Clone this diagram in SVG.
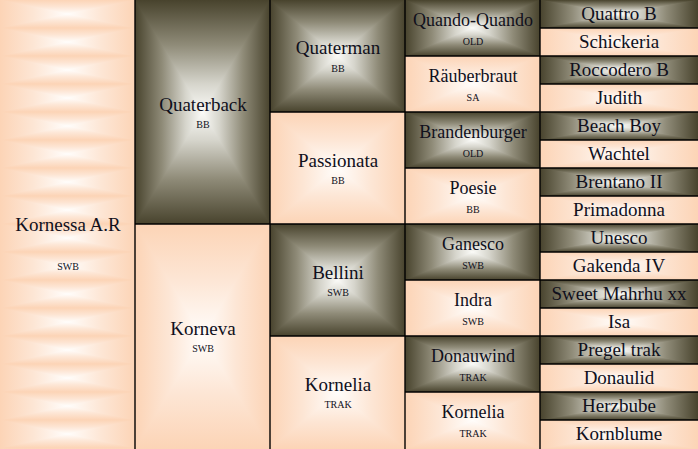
<svg xmlns="http://www.w3.org/2000/svg" width="698" height="449" viewBox="0 0 698 449">
<defs>
<linearGradient id="dT" x1="0" y1="0" x2="0" y2="1"><stop offset="0" stop-color="#48432d"/><stop offset="0.4" stop-color="#8f8b78"/><stop offset="0.75" stop-color="#d6d5cc"/><stop offset="1" stop-color="#fbfbf8"/></linearGradient>
<linearGradient id="dB" x1="0" y1="1" x2="0" y2="0"><stop offset="0" stop-color="#48432d"/><stop offset="0.4" stop-color="#8f8b78"/><stop offset="0.75" stop-color="#d6d5cc"/><stop offset="1" stop-color="#fbfbf8"/></linearGradient>
<linearGradient id="dH" x1="0" y1="0" x2="1" y2="0"><stop offset="0" stop-color="#48432d"/><stop offset="0.2" stop-color="#8f8b78"/><stop offset="0.375" stop-color="#d6d5cc"/><stop offset="0.5" stop-color="#fbfbf8"/><stop offset="0.625" stop-color="#d6d5cc"/><stop offset="0.8" stop-color="#8f8b78"/><stop offset="1" stop-color="#48432d"/></linearGradient>
<linearGradient id="lT" x1="0" y1="0" x2="0" y2="1"><stop offset="0" stop-color="#fcd4b6"/><stop offset="0.5" stop-color="#fde6d5"/><stop offset="1" stop-color="#fffdfb"/></linearGradient>
<linearGradient id="lB" x1="0" y1="1" x2="0" y2="0"><stop offset="0" stop-color="#fcd4b6"/><stop offset="0.5" stop-color="#fde6d5"/><stop offset="1" stop-color="#fffdfb"/></linearGradient>
<linearGradient id="lH" x1="0" y1="0" x2="1" y2="0"><stop offset="0" stop-color="#fcd4b6"/><stop offset="0.25" stop-color="#fde6d5"/><stop offset="0.5" stop-color="#fffdfb"/><stop offset="0.75" stop-color="#fde6d5"/><stop offset="1" stop-color="#fcd4b6"/></linearGradient>
<symbol id="dk" viewBox="0 0 100 100" preserveAspectRatio="none">
<rect width="100" height="100" fill="url(#dH)"/>
<polygon points="0,0 100,0 50,50" fill="url(#dT)"/>
<polygon points="0,100 100,100 50,50" fill="url(#dB)"/>
</symbol>
<symbol id="lt" viewBox="0 0 100 100" preserveAspectRatio="none">
<rect width="100" height="100" fill="url(#lH)"/>
<polygon points="0,0 100,0 50,50" fill="url(#lT)"/>
<polygon points="0,100 100,100 50,50" fill="url(#lB)"/>
</symbol>
<pattern id="band" x="0" y="0" width="135" height="28" patternUnits="userSpaceOnUse">
<use href="#lt" x="0" y="0" width="135" height="28"/>
</pattern>
</defs>
<style>
text{fill:#10101c;text-anchor:middle}
.n{font-size:19px}
.n3{font-size:18px}
.s{font-size:10px}
.grid line{stroke:#000;stroke-width:1.4}
</style>
<rect width="698" height="449" fill="#fcd4b6"/>

<g font-family="'Liberation Serif', 'DejaVu Serif', serif">
<g id="kornessa">
<rect x="0" y="0" width="135" height="449" fill="url(#band)"/>
<text class="n" x="68" y="231">Kornessa A.R</text>
<text class="s" x="68" y="270">SWB</text>
</g>

<g id="quaterback"><use href="#dk" x="135" y="0" width="135" height="224"/>
<text class="n" x="203" y="111">Quaterback</text><text class="s" x="203" y="128">BB</text></g>
<g id="korneva"><use href="#lt" x="135" y="224" width="135" height="225"/>
<text class="n" x="203" y="335">Korneva</text><text class="s" x="203" y="352">SWB</text></g>

<g id="quaterman"><use href="#dk" x="270" y="0" width="135" height="112"/>
<text class="n" x="338" y="54">Quaterman</text><text class="s" x="338" y="72">BB</text></g>
<g id="passionata"><use href="#lt" x="270" y="112" width="135" height="112"/>
<text class="n" x="338" y="167">Passionata</text><text class="s" x="338" y="184">BB</text></g>
<g id="bellini"><use href="#dk" x="270" y="224" width="135" height="112"/>
<text class="n" x="338" y="279">Bellini</text><text class="s" x="338" y="296">SWB</text></g>
<g id="kornelia1"><use href="#lt" x="270" y="336" width="135" height="113"/>
<text class="n" x="338" y="391">Kornelia</text><text class="s" x="338" y="408">TRAK</text></g>

<g id="quando"><use href="#dk" x="405" y="0" width="135" height="56"/>
<text class="n3" x="473" y="26">Quando-Quando</text><text class="s" x="473" y="45">OLD</text></g>
<g id="rauberbraut"><use href="#lt" x="405" y="56" width="135" height="56"/>
<text class="n3" x="473" y="82">Räuberbraut</text><text class="s" x="473" y="101">SA</text></g>
<g id="brandenburger"><use href="#dk" x="405" y="112" width="135" height="56"/>
<text class="n3" x="473" y="138">Brandenburger</text><text class="s" x="473" y="157">OLD</text></g>
<g id="poesie"><use href="#lt" x="405" y="168" width="135" height="56"/>
<text class="n3" x="473" y="194">Poesie</text><text class="s" x="473" y="213">BB</text></g>
<g id="ganesco"><use href="#dk" x="405" y="224" width="135" height="56"/>
<text class="n3" x="473" y="250">Ganesco</text><text class="s" x="473" y="269">SWB</text></g>
<g id="indra"><use href="#lt" x="405" y="280" width="135" height="56"/>
<text class="n3" x="473" y="306">Indra</text><text class="s" x="473" y="325">SWB</text></g>
<g id="donauwind"><use href="#dk" x="405" y="336" width="135" height="56"/>
<text class="n3" x="473" y="362">Donauwind</text><text class="s" x="473" y="381">TRAK</text></g>
<g id="kornelia2"><use href="#lt" x="405" y="392" width="135" height="57"/>
<text class="n3" x="473" y="418">Kornelia</text><text class="s" x="473" y="437">TRAK</text></g>

<g id="quattro"><use href="#dk" x="540" y="0" width="158" height="28"/><text class="n" x="619" y="20">Quattro B</text></g>
<g id="schickeria"><use href="#lt" x="540" y="28" width="158" height="28"/><text class="n" x="619" y="48">Schickeria</text></g>
<g id="roccodero"><use href="#dk" x="540" y="56" width="158" height="28"/><text class="n" x="619" y="76">Roccodero B</text></g>
<g id="judith"><use href="#lt" x="540" y="84" width="158" height="28"/><text class="n" x="619" y="104">Judith</text></g>
<g id="beachboy"><use href="#dk" x="540" y="112" width="158" height="28"/><text class="n" x="619" y="132">Beach Boy</text></g>
<g id="wachtel"><use href="#lt" x="540" y="140" width="158" height="28"/><text class="n" x="619" y="160">Wachtel</text></g>
<g id="brentano"><use href="#dk" x="540" y="168" width="158" height="28"/><text class="n" x="619" y="188">Brentano II</text></g>
<g id="primadonna"><use href="#lt" x="540" y="196" width="158" height="28"/><text class="n" x="619" y="216">Primadonna</text></g>
<g id="unesco"><use href="#dk" x="540" y="224" width="158" height="28"/><text class="n" x="619" y="244">Unesco</text></g>
<g id="gakenda"><use href="#lt" x="540" y="252" width="158" height="28"/><text class="n" x="619" y="272">Gakenda IV</text></g>
<g id="sweet"><use href="#dk" x="540" y="280" width="158" height="28"/><text class="n" x="619" y="300">Sweet Mahrhu xx</text></g>
<g id="isa"><use href="#lt" x="540" y="308" width="158" height="28"/><text class="n" x="619" y="328">Isa</text></g>
<g id="pregel"><use href="#dk" x="540" y="336" width="158" height="28"/><text class="n" x="619" y="356">Pregel trak</text></g>
<g id="donaulid"><use href="#lt" x="540" y="364" width="158" height="28"/><text class="n" x="619" y="384">Donaulid</text></g>
<g id="herzbube"><use href="#dk" x="540" y="392" width="158" height="28"/><text class="n" x="619" y="412">Herzbube</text></g>
<g id="kornblume"><use href="#lt" x="540" y="420" width="158" height="29"/><text class="n" x="619" y="440">Kornblume</text></g>
</g>

<g class="grid" id="connectors">
<line x1="135" y1="0" x2="135" y2="449"/>
<line x1="270" y1="0" x2="270" y2="449"/>
<line x1="405" y1="0" x2="405" y2="449"/>
<line x1="540" y1="0" x2="540" y2="449"/>
<line x1="135" y1="224" x2="270" y2="224"/>
<line x1="270" y1="112" x2="405" y2="112"/>
<line x1="270" y1="224" x2="405" y2="224"/>
<line x1="270" y1="336" x2="405" y2="336"/>
<line x1="405" y1="56" x2="540" y2="56"/>
<line x1="405" y1="112" x2="540" y2="112"/>
<line x1="405" y1="168" x2="540" y2="168"/>
<line x1="405" y1="224" x2="540" y2="224"/>
<line x1="405" y1="280" x2="540" y2="280"/>
<line x1="405" y1="336" x2="540" y2="336"/>
<line x1="405" y1="392" x2="540" y2="392"/>
<line x1="540" y1="28" x2="698" y2="28"/>
<line x1="540" y1="56" x2="698" y2="56"/>
<line x1="540" y1="84" x2="698" y2="84"/>
<line x1="540" y1="112" x2="698" y2="112"/>
<line x1="540" y1="140" x2="698" y2="140"/>
<line x1="540" y1="168" x2="698" y2="168"/>
<line x1="540" y1="196" x2="698" y2="196"/>
<line x1="540" y1="224" x2="698" y2="224"/>
<line x1="540" y1="252" x2="698" y2="252"/>
<line x1="540" y1="280" x2="698" y2="280"/>
<line x1="540" y1="308" x2="698" y2="308"/>
<line x1="540" y1="336" x2="698" y2="336"/>
<line x1="540" y1="364" x2="698" y2="364"/>
<line x1="540" y1="392" x2="698" y2="392"/>
<line x1="540" y1="420" x2="698" y2="420"/>
</g>
</svg>
